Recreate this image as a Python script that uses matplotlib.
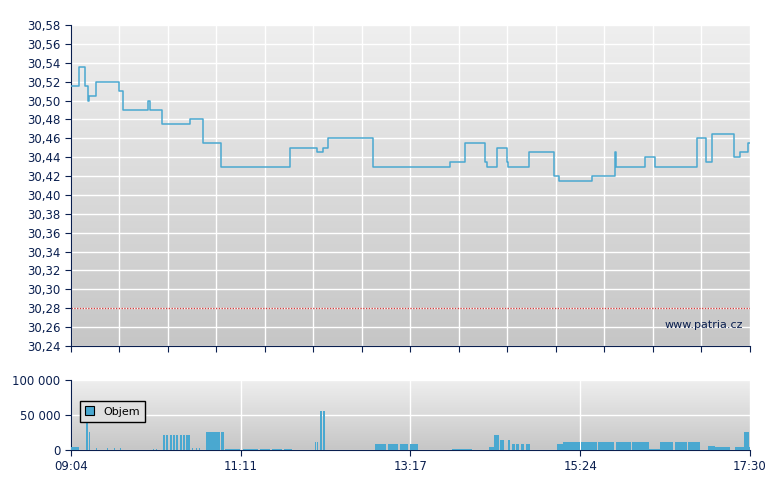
import matplotlib
matplotlib.use("Agg")
import matplotlib.pyplot as plt
import numpy as np
from matplotlib.ticker import FuncFormatter
from matplotlib.colors import LinearSegmentedColormap

# price: minutes after 09:04, price
price_t = [0, 6, 10.4, 12.6, 13.4, 18.6, 35.8, 38.7, 57.4, 58.9, 59.6, 67.8, 88.7, 98.4, 111.8, 163.2, 183.3, 187.8, 191.5, 225.0, 282.4, 293.6, 308.5, 310.0, 317.4, 325.0, 325.7, 341.3, 359.9, 363.6, 388.2, 405.4, 406.1, 427.7, 435.2, 466.4, 473.2, 477.6, 494.0, 498.5, 504.4, 506]
price_v = [30.515, 30.535, 30.515, 30.50, 30.505, 30.52, 30.51, 30.49, 30.50, 30.49, 30.49, 30.475, 30.48, 30.455, 30.43, 30.45, 30.445, 30.45, 30.46, 30.43, 30.435, 30.455, 30.435, 30.43, 30.45, 30.435, 30.43, 30.445, 30.42, 30.415, 30.42, 30.445, 30.43, 30.44, 30.43, 30.46, 30.435, 30.465, 30.44, 30.445, 30.455, 30.455]
ref_price = 30.28

# volume segments: start minute, end minute, volume
vol_start = [0, 11, 12.3, 13.3, 19, 25, 27, 32, 34, 36.5, 40, 61, 63, 68.5, 71, 73.5, 76, 78.5, 81, 83.5, 86, 90.5, 93, 95.5, 100.6, 112, 115, 128, 141, 150, 159, 182, 183.6, 185.5, 188, 226.5, 236, 245, 253, 284, 311.5, 315, 320, 326, 328.6, 332, 335.5, 339, 362, 367, 380, 393, 406, 418, 431, 439, 450, 460, 475, 480, 495, 501.5, 505.6]
vol_end = [6, 11.6, 12.9, 14.2, 19.6, 25.6, 27.6, 32.6, 34.6, 37.1, 40.6, 62, 64, 70, 72.5, 75, 77.5, 80, 82.5, 85, 88.7, 91.2, 93.7, 96.2, 111, 114, 126, 139, 148, 157, 165, 182.8, 184.4, 187, 189.5, 234.5, 244, 251, 258.5, 299, 315, 319, 323, 326.8, 330.6, 334, 337.5, 342, 367, 379, 392, 405, 417, 430.7, 439, 449, 459, 469, 480, 491, 502, 505, 506]
vol_val = [5000, 65000, 65000, 25000, 3000, 3000, 3000, 3000, 3000, 3000, 7000, 2000, 2000, 22000, 22000, 22000, 22000, 22000, 22000, 22000, 22000, 3000, 3000, 3000, 26000, 26000, 2000, 2000, 2000, 2000, 2000, 12000, 12000, 55000, 55000, 8000, 8000, 8000, 8000, 2000, 5000, 22000, 15000, 14000, 9000, 9000, 9000, 9000, 9000, 12000, 12000, 12000, 12000, 12000, 2000, 12000, 12000, 12000, 6000, 4000, 4000, 25000, 5000]

xlabels = ["09:04", "11:11", "13:17", "15:24", "17:30"]
xlabel_pos = [0, 126.5, 253, 379.5, 506]

navy = "#0a1f4f"
blue = "#4aa8d0"
fig = plt.figure(figsize=(7.8, 4.9), dpi=100)
ax = fig.add_axes([0.091, 0.294, 0.8705, 0.655])
ax2 = fig.add_axes([0.091, 0.0816, 0.8705, 0.143])

grad = np.linspace(0, 1, 256).reshape(-1, 1)
cm = LinearSegmentedColormap.from_list("g", ["#efefef", "#c6c6c6"])
for a in (ax, ax2):
    a.imshow(grad, extent=[0, 1, 0, 1], transform=a.transAxes, aspect="auto", cmap=cm, zorder=0)
    for s in ("top", "right"):
        a.spines[s].set_visible(False)
    for s in ("left", "bottom"):
        a.spines[s].set_color(navy)
    a.tick_params(colors=navy, labelcolor=navy, labelsize=8.5, direction="out", length=4)
    a.set_xlim(0, 506)

ax.step(price_t, price_v, where="post", color=blue, lw=1.1, zorder=3)
ax.axhline(ref_price, color="#d04040", lw=1, ls=(0, (1, 1)), zorder=2)
ax.set_ylim(30.24, 30.58)
ax.set_yticks(np.round(np.arange(30.24, 30.581, 0.02), 2))
ax.yaxis.set_major_formatter(FuncFormatter(lambda v, p: f"{v:.2f}".replace(".", ",")))
ax.set_xticks(np.linspace(0, 506, 15))
ax.set_xticklabels([])
ax.grid(True, color="white", lw=1, zorder=1)
ax.set_axisbelow(True)
ax.text(0.99, 0.05, "www.patria.cz", transform=ax.transAxes, ha="right", va="bottom", fontsize=8, color=navy)

ax2.bar(vol_start, vol_val, width=np.array(vol_end) - np.array(vol_start), align="edge", color=blue, edgecolor="none", zorder=3)
ax2.set_ylim(0, 100000)
ax2.set_yticks([0, 50000, 100000])
ax2.set_yticklabels(["0", "50 000", "100 000"])
ax2.set_xticks(xlabel_pos)
ax2.set_xticklabels(xlabels)
ax2.grid(True, color="white", lw=1, zorder=1)
ax2.set_axisbelow(True)
leg = ax2.legend(handles=[plt.Rectangle((0, 0), 1, 1, fc=blue, ec="black", lw=0.8)], labels=["Objem"],
                 loc="upper left", bbox_to_anchor=(0.005, 0.78), fontsize=8, frameon=True,
                 fancybox=False, handlelength=0.8, handleheight=0.8, borderpad=0.5)
leg.get_frame().set_edgecolor("black")
leg.get_frame().set_facecolor("#e0e0e0")
leg.get_frame().set_alpha(1)

fig.savefig("out.png", dpi=100)
